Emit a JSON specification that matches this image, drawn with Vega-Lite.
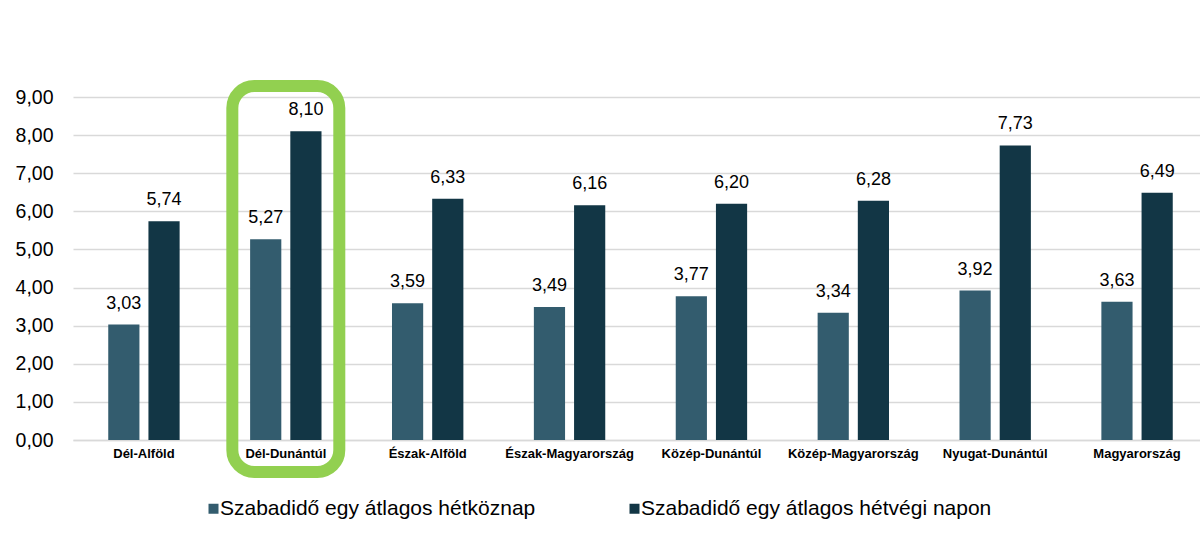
{
  "$schema": "https://vega.github.io/schema/vega-lite/v6.json",
  "width": 1127,
  "height": 343,
  "autosize": {"type": "none"},
  "padding": {"left": 73, "top": 97, "right": 0, "bottom": 96},
  "background": "white",
  "config": {
    "font": "Liberation Sans",
    "view": {"stroke": null}
  },
  "resolve": {"axis": {"y": "independent"}},
  "data": {
    "values": [
      {"region": "Dél-Alföld", "series": "Szabadidő egy átlagos hétköznap", "value": 3.03, "label": "3,03"},
      {"region": "Dél-Alföld", "series": "Szabadidő egy átlagos hétvégi napon", "value": 5.74, "label": "5,74"},
      {"region": "Dél-Dunántúl", "series": "Szabadidő egy átlagos hétköznap", "value": 5.27, "label": "5,27"},
      {"region": "Dél-Dunántúl", "series": "Szabadidő egy átlagos hétvégi napon", "value": 8.10, "label": "8,10"},
      {"region": "Észak-Alföld", "series": "Szabadidő egy átlagos hétköznap", "value": 3.59, "label": "3,59"},
      {"region": "Észak-Alföld", "series": "Szabadidő egy átlagos hétvégi napon", "value": 6.33, "label": "6,33"},
      {"region": "Észak-Magyarország", "series": "Szabadidő egy átlagos hétköznap", "value": 3.49, "label": "3,49"},
      {"region": "Észak-Magyarország", "series": "Szabadidő egy átlagos hétvégi napon", "value": 6.16, "label": "6,16"},
      {"region": "Közép-Dunántúl", "series": "Szabadidő egy átlagos hétköznap", "value": 3.77, "label": "3,77"},
      {"region": "Közép-Dunántúl", "series": "Szabadidő egy átlagos hétvégi napon", "value": 6.20, "label": "6,20"},
      {"region": "Közép-Magyarország", "series": "Szabadidő egy átlagos hétköznap", "value": 3.34, "label": "3,34"},
      {"region": "Közép-Magyarország", "series": "Szabadidő egy átlagos hétvégi napon", "value": 6.28, "label": "6,28"},
      {"region": "Nyugat-Dunántúl", "series": "Szabadidő egy átlagos hétköznap", "value": 3.92, "label": "3,92"},
      {"region": "Nyugat-Dunántúl", "series": "Szabadidő egy átlagos hétvégi napon", "value": 7.73, "label": "7,73"},
      {"region": "Magyarország", "series": "Szabadidő egy átlagos hétköznap", "value": 3.63, "label": "3,63"},
      {"region": "Magyarország", "series": "Szabadidő egy átlagos hétvégi napon", "value": 6.49, "label": "6,49"}
    ]
  },
  "encoding": {
    "x": {
      "field": "region",
      "type": "nominal",
      "title": null,
      "scale": {
        "domain": ["Dél-Alföld", "Dél-Dunántúl", "Észak-Alföld", "Észak-Magyarország", "Közép-Dunántúl", "Közép-Magyarország", "Nyugat-Dunántúl", "Magyarország"],
        "range": [0, 1135],
        "paddingInner": 0,
        "paddingOuter": 0
      },
      "axis": {
        "labelAngle": 0,
        "labelFontSize": 13,
        "labelFontWeight": "bold",
        "labelColor": "#000000",
        "labelPadding": 7,
        "ticks": false,
        "domain": true,
        "domainColor": "#d9d9d9",
        "domainWidth": 1.5,
        "grid": false,
        "labelLimit": 300
      }
    }
  },
  "layer": [
    {
      "mark": {"type": "bar"},
      "encoding": {
        "xOffset": {
          "field": "series",
          "type": "nominal",
          "scale": {"domain": ["Szabadidő egy átlagos hétköznap", "Szabadidő egy átlagos hétvégi napon"], "paddingInner": 0.224, "paddingOuter": 0.877}
        },
        "y": {
          "field": "value",
          "type": "quantitative",
          "title": null,
          "scale": {"domain": [0, 9], "nice": false, "zero": true},
          "axis": {
            "values": [0, 1, 2, 3, 4, 5, 6, 7, 8, 9],
            "labelExpr": "replace(format(datum.value, '.2f'), '.', ',')",
            "labelFontSize": 19.5,
            "labelColor": "#000000",
            "labelPadding": 20,
            "labelOverlap": false,
            "labelBound": false,
            "ticks": false,
            "domain": false,
            "grid": true,
            "gridColor": "#d9d9d9",
            "gridWidth": 1.5
          }
        },
        "color": {
          "field": "series",
          "type": "nominal",
          "title": null,
          "scale": {
            "domain": ["Szabadidő egy átlagos hétköznap", "Szabadidő egy átlagos hétvégi napon"],
            "range": ["#335c6e", "#123645"]
          },
          "legend": {
            "orient": "none",
            "direction": "horizontal",
            "legendX": 130,
            "legendY": 401,
            "padding": 0,
            "symbolType": "square",
            "symbolSize": 100,
            "symbolStrokeWidth": 0,
            "labelFontSize": 21,
            "labelColor": "#000000",
            "labelOffset": -4,
            "labelLimit": 600,
            "columnPadding": 88
          }
        }
      }
    },
    {
      "mark": {"type": "text", "dy": -16, "fontSize": 18, "color": "#000000", "baseline": "alphabetic"},
      "encoding": {
        "xOffset": {
          "field": "series",
          "type": "nominal"
        },
        "y": {"field": "value", "type": "quantitative", "axis": null},
        "text": {"field": "label"}
      }
    },
    {
      "data": {"values": [{"region": "Dél-Dunántúl"}]},
      "mark": {"type": "bar", "width": {"band": 0.754}, "filled": false, "stroke": "#92d050", "strokeWidth": 12, "cornerRadius": 22, "clip": false},
      "encoding": {
        "y": {"datum": 9.29, "axis": null},
        "y2": {"datum": -0.84}
      }
    }
  ]
}
